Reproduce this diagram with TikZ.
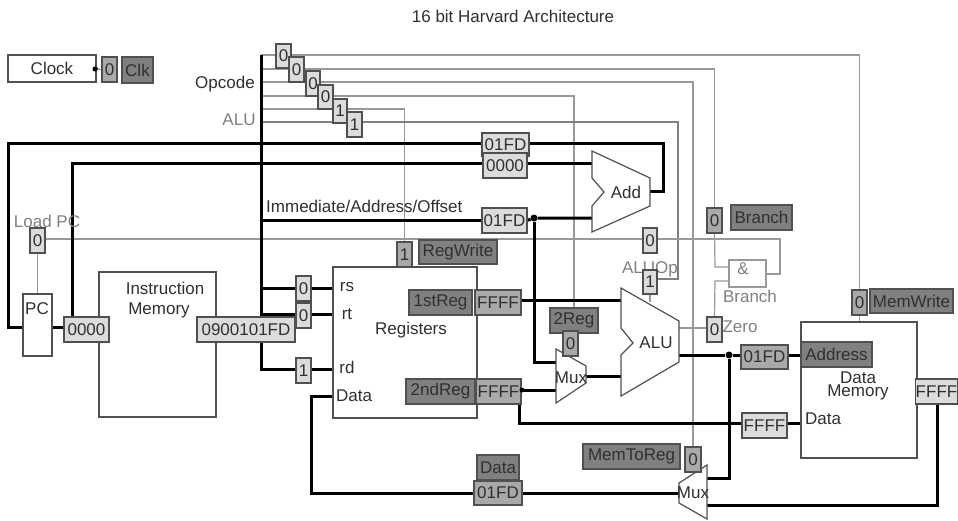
\documentclass[tikz,border=0pt]{standalone}
\usepackage{fontspec}
\setmainfont{Liberation Sans}
\usetikzlibrary{backgrounds,calc}
\definecolor{lightbx}{HTML}{DCDCDC}
\definecolor{midbx}{HTML}{A9A9A9}
\definecolor{darkbx}{HTML}{808080}
\definecolor{edgec}{HTML}{505050}
\definecolor{txt}{HTML}{303030}
\definecolor{graytxt}{HTML}{808080}
\definecolor{wire}{HTML}{999999}
\tikzset{
  bxbase/.style={draw=edgec,line width=1.2pt,inner sep=0pt,outer sep=0pt,text=txt,font=\fontsize{17}{17}\selectfont},
  lightb/.style={bxbase,fill=lightbx},
  midb/.style={bxbase,fill=midbx},
  darkb/.style={bxbase,fill=darkbx},
  whiteb/.style={bxbase,fill=white},
  paleb/.style={bxbase,fill=white,draw=wire},
  lbl/.style={inner sep=0pt,text=txt,font=\fontsize{17}{17}\selectfont},
  glbl/.style={inner sep=0pt,text=graytxt,font=\fontsize{17}{17}\selectfont},
  shp/.style={draw=edgec,line width=1.2pt,fill=white,line join=miter},
  heavy/.style={draw=black,line width=3pt,line join=miter},
  heavyg/.style={draw=darkbx,line width=2.2pt},
  thin wire/.style={draw=wire,line width=1.2pt},
  jdot/.style={circle,fill=black,inner sep=0pt,minimum size=7pt},
}
\newcommand\bx[7]{%
  \pgfmathsetmacro\bxcx{(#2+#4)/2}\pgfmathsetmacro\bxcy{(#3+#5)/2}%
  \pgfmathsetmacro\bxw{#4-#2}\pgfmathsetmacro\bxh{#5-#3}%
  \node[#6,minimum width=\bxw pt,minimum height=\bxh pt] (#1) at (\bxcx,\bxcy) {#7};}
\begin{document}
\begin{tikzpicture}[x=1pt,y=-1pt]
\path[use as bounding box] (0,0) rectangle (958,520);
\node[lbl] (title) at (513,16) {16 bit Harvard Architecture};
% blocks
\bx{clock}{8}{55}{96}{82}{whiteb}{Clock}
\bx{pc}{23}{294}{52}{356}{whiteb}{}
\node[lbl] (pctxt) at (37,309) {PC};
\bx{imem}{99}{272}{216}{417}{whiteb}{}
\node[lbl] (imt1) at (165,288) {Instruction};
\node[lbl] (imt2) at (159,310) {Memory};
\bx{regs}{333}{267}{477}{418}{whiteb}{}
\node[lbl] (regt) at (411,330) {Registers};
\node[lbl] (rst) at (347,287) {rs};
\node[lbl] (rtt) at (347,314) {rt};
\node[lbl] (rdt) at (347,367) {rd};
\node[lbl] (dtt) at (354,396) {Data};
\bx{dmem}{801}{322}{917}{458}{whiteb}{}
\node[lbl] (dmt1) at (858,378) {Data};
\node[lbl] (dmt2) at (858,392) {Memory};
\node[lbl] (dmt3) at (823,419) {Data};
% polygons
\draw[shp] (592,151) coordinate (addA) -- (650,178) -- (650,206) -- (592,232) -- (592,206) -- (604,192) -- (592,178) -- cycle;
\node[lbl] (addt) at (626,192) {Add};
\draw[shp] (621,288) coordinate (aluA) -- (679,321) -- (679,362) -- (621,396) -- (621,355) -- (633,343) -- (621,328) -- cycle;
\node[lbl] (alut) at (656,343) {ALU};
\draw[shp] (556,349) -- (586,366) -- (586,383) -- (556,403) -- cycle;
\node[lbl] (mux1) at (571,378) {Mux};
\draw[shp] (707,465) -- (707,519) -- (679,503) -- (679,483) -- cycle;
\node[lbl] (mux2) at (693,493) {Mux};
\bx{gate}{729}{260}{766}{287}{paleb}{}
\node[glbl] (gatea) at (743,269) {\&};
\node[glbl] (gateb) at (750,296) {Branch};
% value and name boxes
\bx{clk0}{102}{57}{117}{82}{midb}{0}
\bx{clkn}{122}{57}{153}{83}{darkb}{Clk}
\bx{op1}{276}{44}{291}{68}{lightb}{0}
\bx{op2}{289}{57}{304}{82}{lightb}{0}
\bx{op3}{306}{71}{320}{96}{lightb}{0}
\bx{op4}{318}{85}{333}{109}{lightb}{0}
\bx{op5}{333}{99}{347}{123}{lightb}{1}
\bx{op6}{347}{112}{362}{137}{lightb}{1}
\bx{fb1}{482}{133}{529}{156}{lightb}{01FD}
\bx{fb2}{483}{153}{527}{178}{lightb}{0000}
\bx{imm}{482}{208}{527}{233}{lightb}{01FD}
\bx{lpc}{30}{228}{45}{253}{lightb}{0}
\bx{pcout}{64}{317}{109}{342}{lightb}{0000}
\bx{instr}{197}{317}{295}{342}{lightb}{0900101FD}
\bx{rsv}{296}{276}{311}{301}{lightb}{0}
\bx{rtv}{296}{303}{311}{328}{lightb}{0}
\bx{rdv}{296}{358}{311}{383}{lightb}{1}
\bx{rw}{397}{242}{412}{267}{midb}{1}
\bx{rwn}{419}{240}{497}{264}{darkb}{RegWrite}
\bx{r1n}{409}{290}{472}{315}{darkb}{1stReg}
\bx{r1v}{475}{290}{521}{315}{midb}{FFFF}
\bx{r2n}{406}{379}{475}{404}{darkb}{2ndReg}
\bx{r2v}{476}{379}{521}{404}{midb}{FFFF}
\bx{s2n}{550}{308}{598}{333}{darkb}{2Reg}
\bx{s2v}{563}{331}{578}{356}{midb}{0}
\bx{lineb}{643}{228}{657}{253}{lightb}{0}
\node[glbl] (aluop) at (650,269) {ALUOp};
\bx{opb}{643}{270}{657}{294}{lightb}{1}
\bx{brv}{707}{208}{722}{233}{midb}{0}
\bx{brn}{731}{205}{792}{230}{darkb}{Branch}
\bx{zv}{707}{317}{722}{342}{lightb}{0}
\node[glbl] (zt) at (740,327) {Zero};
\bx{mwv}{852}{290}{867}{315}{midb}{0}
\bx{mwn}{870}{289}{953}{313}{darkb}{MemWrite}
\bx{addrv}{741}{345}{788}{369}{midb}{01FD}
\bx{addrn}{801}{342}{872}{367}{darkb}{Address}
\bx{dv}{742}{413}{787}{438}{lightb}{FFFF}
\bx{dout}{916}{379}{957}{404}{lightb}{FFFF}
\bx{wbn}{477}{455}{519}{480}{darkb}{Data}
\bx{wbv}{474}{481}{522}{505}{midb}{01FD}
\bx{m2n}{583}{444}{680}{469}{darkb}{MemToReg}
\bx{m2v}{685}{447}{701}{472}{midb}{0}
\node[lbl] (opc) at (225,84) {Opcode};
\node[glbl] (alul) at (239,120) {ALU};
\node[lbl,anchor=west] (immt) at (266,206) {Immediate/Address/Offset};
\node[glbl] (lpct) at (47,221) {Load PC};
% junctions
\node[jdot,minimum size=5pt] (jclk) at (95,69) {};
\node[jdot] (jimm) at (534,218) {};
\node[jdot,minimum size=5pt] (j2r) at (522,390) {};
\node[jdot] (jalu) at (729,355) {};
% named ends
\coordinate (c1) at (261,55);
\coordinate (c2) at (261,69);
\coordinate (c3) at (261,82);
\coordinate (c4) at (261,96);
\coordinate (c5) at (261,109);
\coordinate (c6) at (261,122);
\coordinate (aluopk) at (678,279);
\coordinate (fbL) at (8,143);
\coordinate (fbB) at (8,327);
\coordinate (pcT) at (72,163);
\coordinate (addIn1) at (592,163);
\coordinate (addIn2) at (592,218);
\coordinate (addOut) at (650,191);
\coordinate (addR) at (663,143);
\coordinate (busBot) at (261,369);
\coordinate (immBot) at (534,362);
\coordinate (mux1In1) at (556,362);
\coordinate (mux1In2) at (556,390);
\coordinate (mux1Out) at (586,376);
\coordinate (aluIn1) at (621,300);
\coordinate (aluIn2) at (621,376);
\coordinate (aluOut) at (679,355);
\coordinate (lineR) at (780,239);
\coordinate (lineG) at (780,274);
\coordinate (wbL) at (311,396);
\coordinate (wbB) at (311,493);
\coordinate (mux2A) at (707,478);
\coordinate (mux2B) at (679,493);
\coordinate (mux2C) at (707,505);
\coordinate (dmR) at (937,505);
\coordinate (aluZ) at (679,328);
\coordinate (r2B) at (519,423);
\coordinate (dIn) at (743,423);
\coordinate (ajog1) at (715,281);
\coordinate (ajog2) at (715,267);
\begin{pgfonlayer}{background}
\fill[white] (0,0) rectangle (958,520);
% thin control wires
\draw[thin wire] (jclk) -- (clk0.west);
\draw[thin wire] (c1) -| (mwv.north);
\draw[thin wire] (mwv.south) -- (mwv.south |- dmem.north);
\draw[thin wire] (c2) -| (brv.north);
\draw[thin wire] (brv.south) -- (ajog2) -- (ajog2 -| gate.west);
\draw[thin wire] (c3) -| (m2v.north);
\draw[thin wire] (c4) -| (s2n.north);
\draw[thin wire] (c5) -| (rw.north);
\draw[heavyg] (c6) -| (aluopk) -- (aluopk -| opb.east);
\draw[thin wire] (opb.south) -- (opb.south |- 0,302);
\draw[thin wire] (lpc.south) -- (lpc.south |- pc.north);
\draw[thin wire] (lpc.east |- lineR) -- (lineR) -- (lineG) -- (gate.east |- lineG);
\draw[thin wire] (aluZ) -- (aluZ -| zv.west);
\draw[thin wire] (zv.north) -- (ajog1) -- (ajog1 -| gate.west);
% data buses
\draw[heavy] (clock.east) -- (jclk);
\draw[heavy] (fb1.west |- fbL) -- (fbL) -- (fbB) -- (fbB -| pc.west);
\draw[heavy] (fb1.east |- fbL) -- (addR) |- (addOut);
\draw[heavy] (pcout.north -| pcT) -- (pcT) -- (addIn1);
\draw[heavy] (pc.east |- fbB) -- (fbB -| pcout.west);
\draw[heavy] (c1) -- (busBot) -- (busBot -| regs.west);
\draw[heavy] (c1 |- rsv.west) -- (rsv.west -| regs.west);
\draw[heavy] (c1 |- 0,314) -- (regs.west |- 0,314);
\draw[heavy] (c1 |- imm.west) -- (imm.west);
\draw[heavy] (imm.east) -- (jimm) -- (addIn2);
\draw[heavy] (jimm) -- (immBot) -- (mux1In1);
\draw[heavy] (r1v.east |- aluIn1) -- (aluIn1);
\draw[heavy] (r2v.east |- mux1In2) -- (mux1In2);
\draw[heavy] (mux1Out) -- (aluIn2);
\draw[heavy] (aluOut) -- (jalu) -- (addrv.west |- jalu);
\draw[heavy] (addrv.east |- jalu) -- (addrn.west |- jalu);
\draw[heavy] (jalu) -- (jalu |- mux2A) -- (mux2A);
\draw[heavy] (r2B |- r2v.south) -- (r2B) -- (dIn);
\draw[heavy] (dv.east |- dIn) -- (dmem.west |- dIn);
\draw[heavy] (dmR |- dout.south) -- (dmR) -- (mux2C);
\draw[heavy] (mux2B) -- (wbv.east |- mux2B);
\draw[heavy] (wbv.west |- wbB) -- (wbB) -- (wbL) -- (regs.west |- wbL);
\end{pgfonlayer}
\end{tikzpicture}
\end{document}
